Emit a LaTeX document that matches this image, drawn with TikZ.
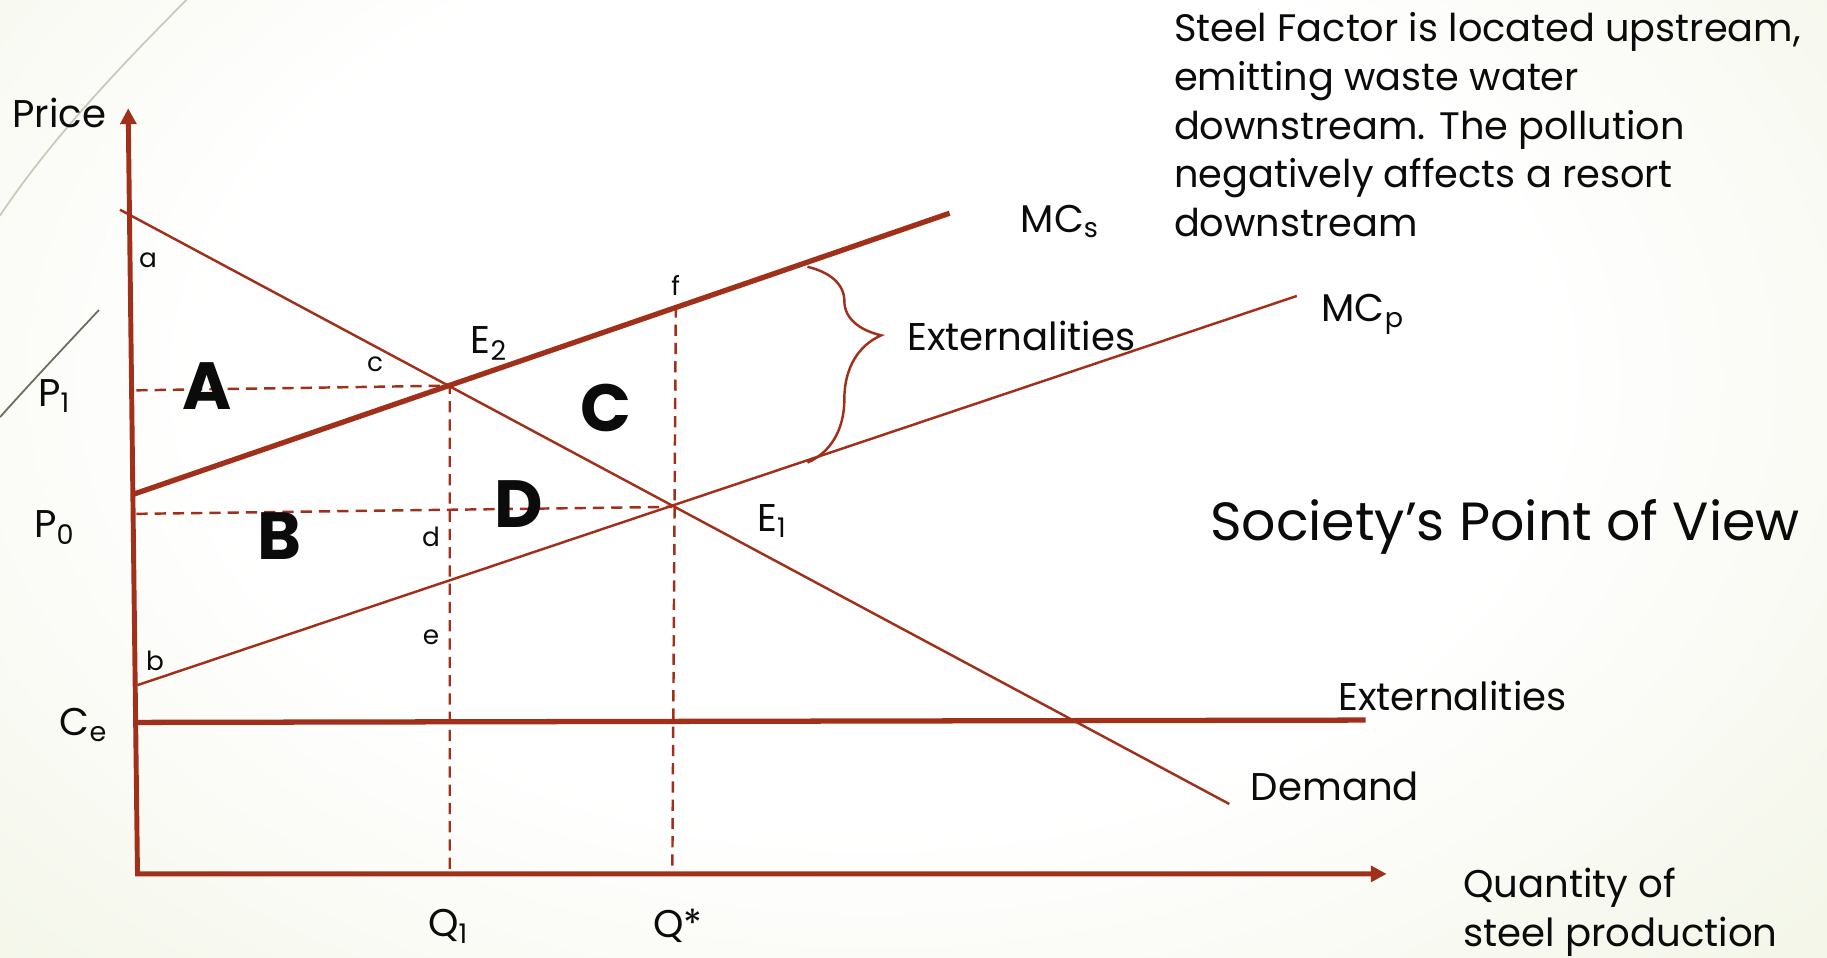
\documentclass[tikz,border=0pt]{standalone}
\usepackage{fontspec}
\setmainfont{Poppins}
\usepackage{xcolor}
\usetikzlibrary{arrows.meta,decorations.pathreplacing}
\definecolor{rust}{HTML}{A0301A}
\definecolor{ink}{HTML}{0B0B0B}
\definecolor{slideEdge}{HTML}{E1E8C6}
\definecolor{arcLight}{HTML}{C8CBBB}
\definecolor{arcDark}{HTML}{6E6C5E}
\pgfdeclareradialshading{slidebg}{\pgfpoint{0bp}{0bp}}{color(0bp)=(white); color(16bp)=(white); color(52bp)=(slideEdge)}

\begin{document}
\begin{tikzpicture}[x=0.011652cm,y=-0.011652cm,
    axisline/.style={rust,line width=1.4pt,{Triangle[length=4.5pt,width=4.5pt]}-{Triangle[length=4.5pt,width=4.5pt]}},
    curve/.style={rust,line width=0.7pt},
    boldcurve/.style={rust,line width=1.5pt},
    guide/.style={rust,line width=0.7pt,dash pattern=on 3.2pt off 2pt},
    tag/.style={inner sep=0pt,text=ink,font=\fontsize{11}{13.9}\selectfont},
    mini/.style={inner sep=0pt,text=ink,font=\fontsize{7.5}{9}\selectfont},
    area/.style={inner sep=0pt,text=ink,font=\fontsize{19}{22}\selectfont\bfseries}]
  \useasboundingbox (0,0) rectangle (1568,822);
  \begin{scope}
    \clip (0,0) rectangle (1568,822);
    \shade[shading=slidebg] (-150,-280) rectangle (1650,930);
  \end{scope}
  \draw[arcLight,line width=0.5pt] (0,185) .. controls (40,125) and (95,65) .. (160,0);
  \draw[arcDark,line width=0.5pt] (85,266) .. controls (55,298) and (25,330) .. (0,358);

  \coordinate (ytop) at (110,93);
  \coordinate (orig) at (118,750);
  \coordinate (xend) at (1190,750);
  \coordinate (dTop) at (103,180);
  \coordinate (dEnd) at (1055,690);
  \coordinate (sStart) at (115,424);
  \coordinate (sEnd) at (815,183);
  \coordinate (pStart) at (118,588);
  \coordinate (pEnd) at (1113,254);
  \coordinate (xtStart) at (118,620);
  \coordinate (xtEnd) at (1172,618);
  \coordinate (E2) at (386,331);
  \coordinate (E1) at (577,435);
  \coordinate (f) at (580,263);
  \coordinate (q1) at (386,750);
  \coordinate (qs) at (577,750);
  \coordinate (p1) at (117,335);
  \coordinate (p0) at (117,441);
  \coordinate (bTop) at (693,229);
  \coordinate (bBot) at (693,397);

  \draw[guide] (p1) -- (E2) -- (q1);
  \draw[guide] (p0) -- (E1);
  \draw[guide] (f) -- (qs);
  \draw[curve] (dTop) -- (dEnd);
  \draw[curve] (pStart) -- (pEnd);
  \draw[boldcurve] (sStart) -- (sEnd);
  \draw[boldcurve] (xtStart) -- (xtEnd);
  \draw[axisline] (ytop) -- (orig) -- (xend);
  \draw[curve,decorate,decoration={brace,amplitude=21pt,aspect=0.35}] (bTop) -- (bBot);

  \node[tag] (price) at (51,97) {Price};
  \node[tag] (lp1) at (47,340) {P\textsubscript{1}};
  \node[tag] (lp0) at (47,453) {P\textsubscript{0}};
  \node[tag] (lce) at (72,622) {C\textsubscript{e}};
  \node[tag] (lq1) at (385,795) {Q\textsubscript{1}};
  \node[tag] (lqs) at (582,795) {Q*};
  \node[tag] (le2) at (420,295) {E\textsubscript{2}};
  \node[tag] (le1) at (663,447) {E\textsubscript{1}};
  \node[tag] (lmcs) at (910,190) {MC\textsubscript{s}};
  \node[tag] (lmcp) at (1170,270) {MC\textsubscript{p}};
  \node[tag,anchor=west] (lbrace) at (778,288) {Externalities};
  \node[tag,anchor=west] (lext) at (1148,597) {Externalities};
  \node[tag,anchor=west] (ldem) at (1073,675) {Demand};
  \node[tag,anchor=west,align=left] (lqty) at (1255,783) {Quantity of\\steel production};
  \node[inner sep=0pt,text=ink,font=\fontsize{15.3}{18}\selectfont,anchor=west] (view) at (1038,452) {Society’s Point of View};
  \node[tag,anchor=north west,align=left,font=\fontsize{10.9}{13.9}\selectfont] (story) at (1007,10)
    {Steel Factor is located upstream,\\emitting waste water\\downstream. The pollution\\negatively affects a resort\\downstream};

  \foreach \t/\x/\y in {a/127/223,c/322/313,d/370/461,e/370/547,b/133/567,f/580/245}{
    \node[mini] (m\t) at (\x,\y) {\t};
  }
  \node[area] (areaA) at (178,331) {A};
  \node[area] (areaB) at (240,460) {B};
  \node[area] (areaC) at (520,350) {C};
  \node[area] (areaD) at (445,433) {D};
\end{tikzpicture}
\end{document}
